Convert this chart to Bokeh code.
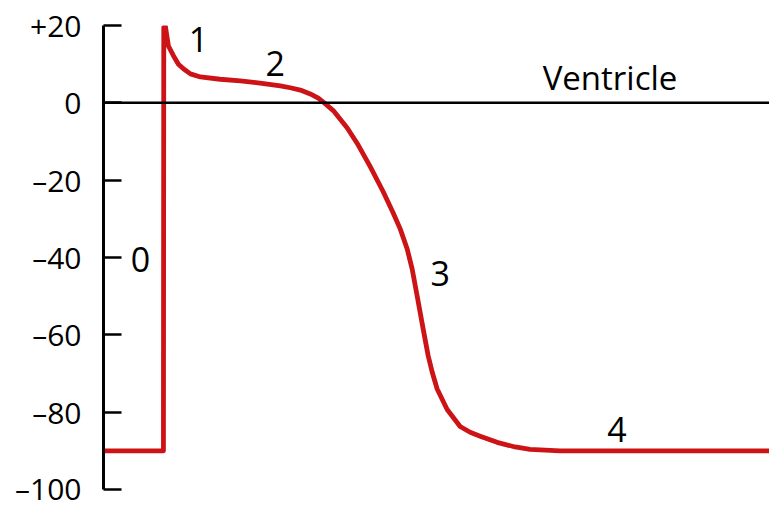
from bokeh.plotting import figure
from bokeh.models import Range1d, FixedTicker, Span, ColumnDataSource
from bokeh.core.properties import value
from bokeh.embed import file_html
from bokeh.resources import INLINE

# Ventricular action potential (time in ms, membrane potential in mV)
time_ms = [0, 35.4, 36.0, 36.2, 37.2, 39.0, 42.0, 45.0, 48.0, 52.2, 58.2, 70.0, 82.2,
           94.0, 106.2, 112.2, 118.2, 124.2, 129.0, 132.6, 138.0, 146.4, 152.4, 160.2,
           168.0, 174.0, 178.2, 182.4, 185.4, 188.4, 192.0, 195.0, 197.4, 200.4, 206.4,
           214.2, 220.2, 226.2, 236.4, 247.2, 256.2, 274.2, 400.0]
voltage_mv = [-90, -90, -90, 19.5, 19.7, 14.7, 12.2, 10.0, 8.8, 7.5, 6.7, 6.1, 5.7,
              5.1, 4.4, 3.9, 3.3, 2.3, 1.2, 0.0, -2.0, -6.5, -10.5, -16.5,
              -23.0, -28.5, -32.6, -37.8, -43.0, -50.0, -58.5, -65.4, -69.6, -74.0, -79.3,
              -83.7, -85.2, -86.2, -87.8, -89.0, -89.6, -90.0, -90.0]

y_ticks = [-100, -80, -60, -40, -20, 0, 20]
y_tick_labels = {-100: "–100", -80: "–80", -60: "–60", -40: "–40", -20: "–20", 0: "0", 20: "+20"}

phase_labels = ["0", "1", "2", "3", "4"]
phase_x = [22.2, 57.0, 103.2, 202.2, 308.4]
phase_y = [-40.4, 16.4, 10.3, -44.2, -84.6]

chamber_label = ["Ventricle"]
chamber_x = [304.2]
chamber_y = [6.5]

FONT = "Open Sans"

p = figure(width=769, height=508, output_backend="svg", toolbar_location=None,
           x_range=Range1d(0, 400), y_range=Range1d(-100, 20),
           min_border_left=103, min_border_right=0, min_border_top=25, min_border_bottom=19)
p.outline_line_color = None
p.xgrid.visible = False
p.ygrid.visible = False
p.xaxis.visible = False

ax = p.yaxis[0]
ax.ticker = FixedTicker(ticks=y_ticks)
ax.major_label_overrides = y_tick_labels
ax.axis_line_color = "black"
ax.axis_line_width = 3
ax.major_tick_line_color = "black"
ax.major_tick_line_width = 2.5
ax.major_tick_in = 18
ax.major_tick_out = 0
ax.minor_tick_line_color = None
ax.major_label_standoff = 22
ax.major_label_text_font = FONT
ax.major_label_text_font_size = "30px"
ax.major_label_text_color = "black"

p.add_layout(Span(location=0, dimension="width", line_color="black", line_width=2.5))

p.line(time_ms, voltage_mv, line_color="#cc1417", line_width=4.8, line_join="round", line_cap="round")

src = ColumnDataSource(dict(x=phase_x, y=phase_y, t=phase_labels))
p.text(x="x", y="y", text="t", source=src, text_font=value(FONT), text_font_size="34px",
       text_align="center", text_baseline="middle", text_color="black")

src2 = ColumnDataSource(dict(x=chamber_x, y=chamber_y, t=chamber_label))
p.text(x="x", y="y", text="t", source=src2, text_font=value(FONT), text_font_size="33px",
       text_align="center", text_baseline="middle", text_color="black")

open("out.html", "w").write(file_html(p, INLINE))
